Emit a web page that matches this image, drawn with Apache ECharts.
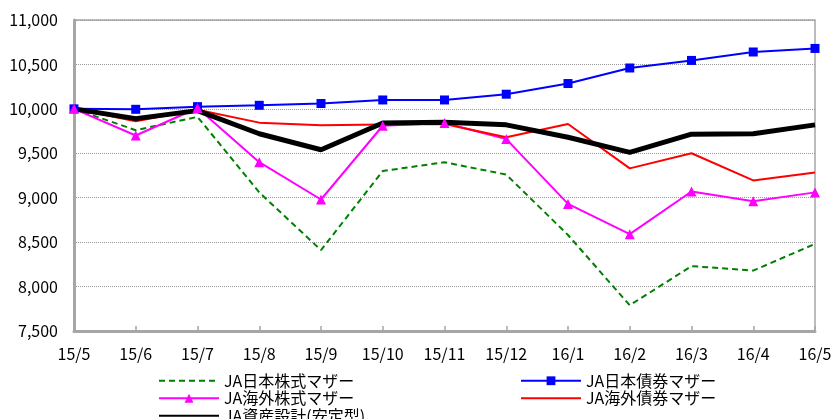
<!DOCTYPE html>
<html><head><meta charset="utf-8">
<script src="https://cdn.jsdelivr.net/npm/echarts@6/dist/echarts.min.js"></script>
<style>html,body{margin:0;padding:0;background:#fff}#c{width:835px;height:419px}</style>
</head><body><div id="c"></div>
<script>
const categories = ['15/5','15/6','15/7','15/8','15/9','15/10','15/11','15/12','16/1','16/2','16/3','16/4','16/5'];
const jpStock = [10000, 9760, 9910, 9060, 8410, 9300, 9400, 9260, 8580, 7790, 8230, 8180, 8480];
const jpBond = [10000, 9995, 10025, 10040, 10060, 10100, 10100, 10165, 10285, 10460, 10545, 10640, 10680];
const frStock = [10000, 9700, 10010, 9400, 8980, 9810, 9840, 9660, 8930, 8590, 9070, 8960, 9060];
const frBond = [10000, 9860, 9990, 9845, 9815, 9825, 9830, 9680, 9830, 9330, 9500, 9195, 9285];
const balanced = [10000, 9890, 9980, 9720, 9540, 9840, 9850, 9820, 9680, 9510, 9715, 9720, 9820];
const names = ['JA日本株式マザー','JA日本債券マザー','JA海外株式マザー','JA海外債券マザー','JA資産設計(安定型)'];

const font = '"Noto Sans CJK JP", sans-serif';
const chart = echarts.init(document.getElementById('c'));
const legendText = {fontSize: 16, color: '#000', fontFamily: font, lineHeight: 17.5};
const hidden = {opacity: 0};
chart.setOption({
  animation: false,
  textStyle: {fontFamily: font},
  grid: {left: 74, right: 20, top: 20, bottom: 88, show: true, borderColor: '#a6a6a6', borderWidth: 1.5},
  xAxis: {
    type: 'category', data: categories, boundaryGap: false,
    axisLine: {lineStyle: {color: '#a6a6a6', width: 3}},
    axisTick: {inside: true, length: 5, lineStyle: {color: '#a6a6a6', width: 1.5}},
    axisLabel: {color: '#000', fontSize: 16, margin: 15, fontFamily: font},
    splitLine: {show: false}
  },
  yAxis: {
    type: 'value', min: 7500, max: 11000, interval: 500,
    axisLine: {show: true, lineStyle: {color: '#a6a6a6', width: 3}},
    axisTick: {show: false},
    axisLabel: {color: '#000', fontSize: 16, margin: 16, fontFamily: font,
      formatter: v => v.toLocaleString('en-US')},
    splitLine: {lineStyle: {color: '#9a9a9a', type: 'dotted', width: 1}}
  },
  legend: [
    {orient: 'vertical', left: 153, top: 367, height: 80, itemWidth: 60, itemHeight: 11, itemGap: 0,
     textStyle: legendText,
     data: [{name: names[0], itemStyle: hidden}, {name: names[2]}, {name: names[4], itemStyle: hidden}]},
    {orient: 'vertical', left: 515, top: 367, height: 80, itemWidth: 60, itemHeight: 11, itemGap: 0,
     textStyle: legendText,
     data: [{name: names[1]}, {name: names[3], itemStyle: hidden}]}
  ],
  series: [
    {name: names[0], type: 'line', data: jpStock, symbol: 'none',
     lineStyle: {color: '#008000', width: 2, type: [6, 4]}, itemStyle: {color: '#008000'}},
    {name: names[1], type: 'line', data: jpBond, symbol: 'rect', symbolSize: 9,
     lineStyle: {color: '#0000ff', width: 2}, itemStyle: {color: '#0000ff'}},
    {name: names[2], type: 'line', data: frStock, symbol: 'triangle', symbolSize: 10,
     lineStyle: {color: '#ff00ff', width: 2}, itemStyle: {color: '#ff00ff'}},
    {name: names[3], type: 'line', data: frBond, symbol: 'none',
     lineStyle: {color: '#ff0000', width: 2}, itemStyle: {color: '#ff0000'}},
    {name: names[4], type: 'line', data: balanced, symbol: 'none',
     lineStyle: {color: '#000000', width: 5}, itemStyle: {color: '#000000'}}
  ]
});
</script></body></html>
